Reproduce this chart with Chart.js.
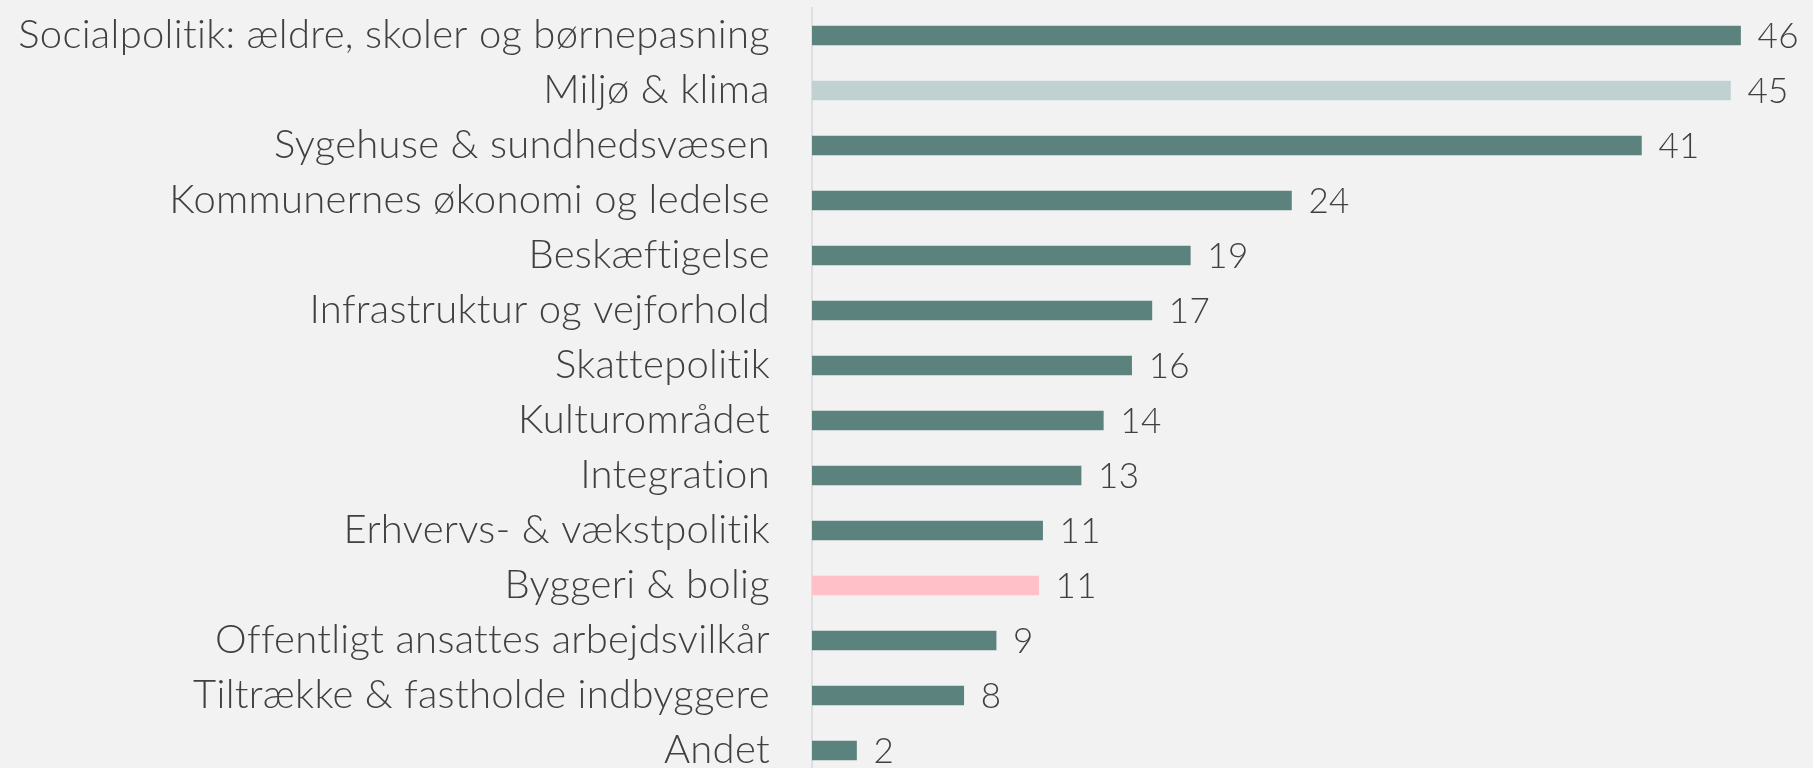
<!DOCTYPE html>
<html>
<head>
<meta charset="utf-8">
<script src="https://cdn.jsdelivr.net/npm/chart.js@4"></script>
<style>
  html, body { margin: 0; padding: 0; background: #f2f2f2; overflow: hidden; }
  #wrap { position: relative; width: 1813px; height: 778px; }
</style>
</head>
<body>
<div id="wrap"><canvas id="chart"></canvas></div>
<script>
var categories = [
  'Socialpolitik: ældre, skoler og børnepasning',
  'Miljø & klima',
  'Sygehuse & sundhedsvæsen',
  'Kommunernes økonomi og ledelse',
  'Beskæftigelse',
  'Infrastruktur og vejforhold',
  'Skattepolitik',
  'Kulturområdet',
  'Integration',
  'Erhvervs- & vækstpolitik',
  'Byggeri & bolig',
  'Offentligt ansattes arbejdsvilkår',
  'Tiltrække & fastholde indbyggere',
  'Andet'
];
var values = [45.9, 45.4, 41.0, 23.7, 18.7, 16.8, 15.8, 14.4, 13.3, 11.4, 11.2, 9.1, 7.5, 2.2];
var barColors = [
  '#5c827e', '#bfd1d1', '#5c827e', '#5c827e', '#5c827e', '#5c827e', '#5c827e',
  '#5c827e', '#5c827e', '#5c827e', '#ffc0c8', '#5c827e', '#5c827e', '#5c827e'
];

var fontFamily = '"Source Sans Pro", Lato, sans-serif';
var textColor = '#404040';

// small letter spacing keeps Lato from drawing "ti" ligatures
var noLigatures = {
  id: 'noLigatures',
  beforeDraw: function(chart) {
    chart.ctx.letterSpacing = '0.3px';
  }
};

// draws the rounded value to the right of each bar
var valueLabels = {
  id: 'valueLabels',
  afterDatasetsDraw: function(chart) {
    var ctx = chart.ctx;
    var meta = chart.getDatasetMeta(0);
    ctx.save();
    ctx.font = '300 35px ' + fontFamily;
    ctx.fillStyle = textColor;
    ctx.textAlign = 'left';
    ctx.textBaseline = 'middle';
    meta.data.forEach(function(bar, i) {
      ctx.fillText(Math.round(values[i]), bar.x + 17, bar.y + 1);
    });
    ctx.restore();
  }
};

var chart = new Chart(document.getElementById('chart'), {
  type: 'bar',
  data: {
    labels: categories,
    datasets: [{
      data: values,
      backgroundColor: barColors,
      barThickness: 19,
      borderWidth: 0
    }]
  },
  options: {
    indexAxis: 'y',
    responsive: true,
    maintainAspectRatio: false,
    animation: false,
    layout: { padding: { top: 8, right: 32, bottom: 0, left: 0 } },
    plugins: {
      legend: { display: false },
      tooltip: { enabled: false }
    },
    scales: {
      x: {
        display: false,
        min: 0,
        max: 47.9
      },
      y: {
        afterFit: function(scale) {
          scale.width = 812;
          scale.paddingTop = 0;
          scale.paddingBottom = 0;
        },
        grid: { display: false, drawTicks: false },
        border: { display: true, color: '#dedede', width: 2 },
        ticks: {
          padding: 42,
          color: textColor,
          font: { family: fontFamily, size: 40, weight: '300' }
        }
      }
    }
  },
  plugins: [noLigatures, valueLabels]
});
</script>
</body>
</html>
